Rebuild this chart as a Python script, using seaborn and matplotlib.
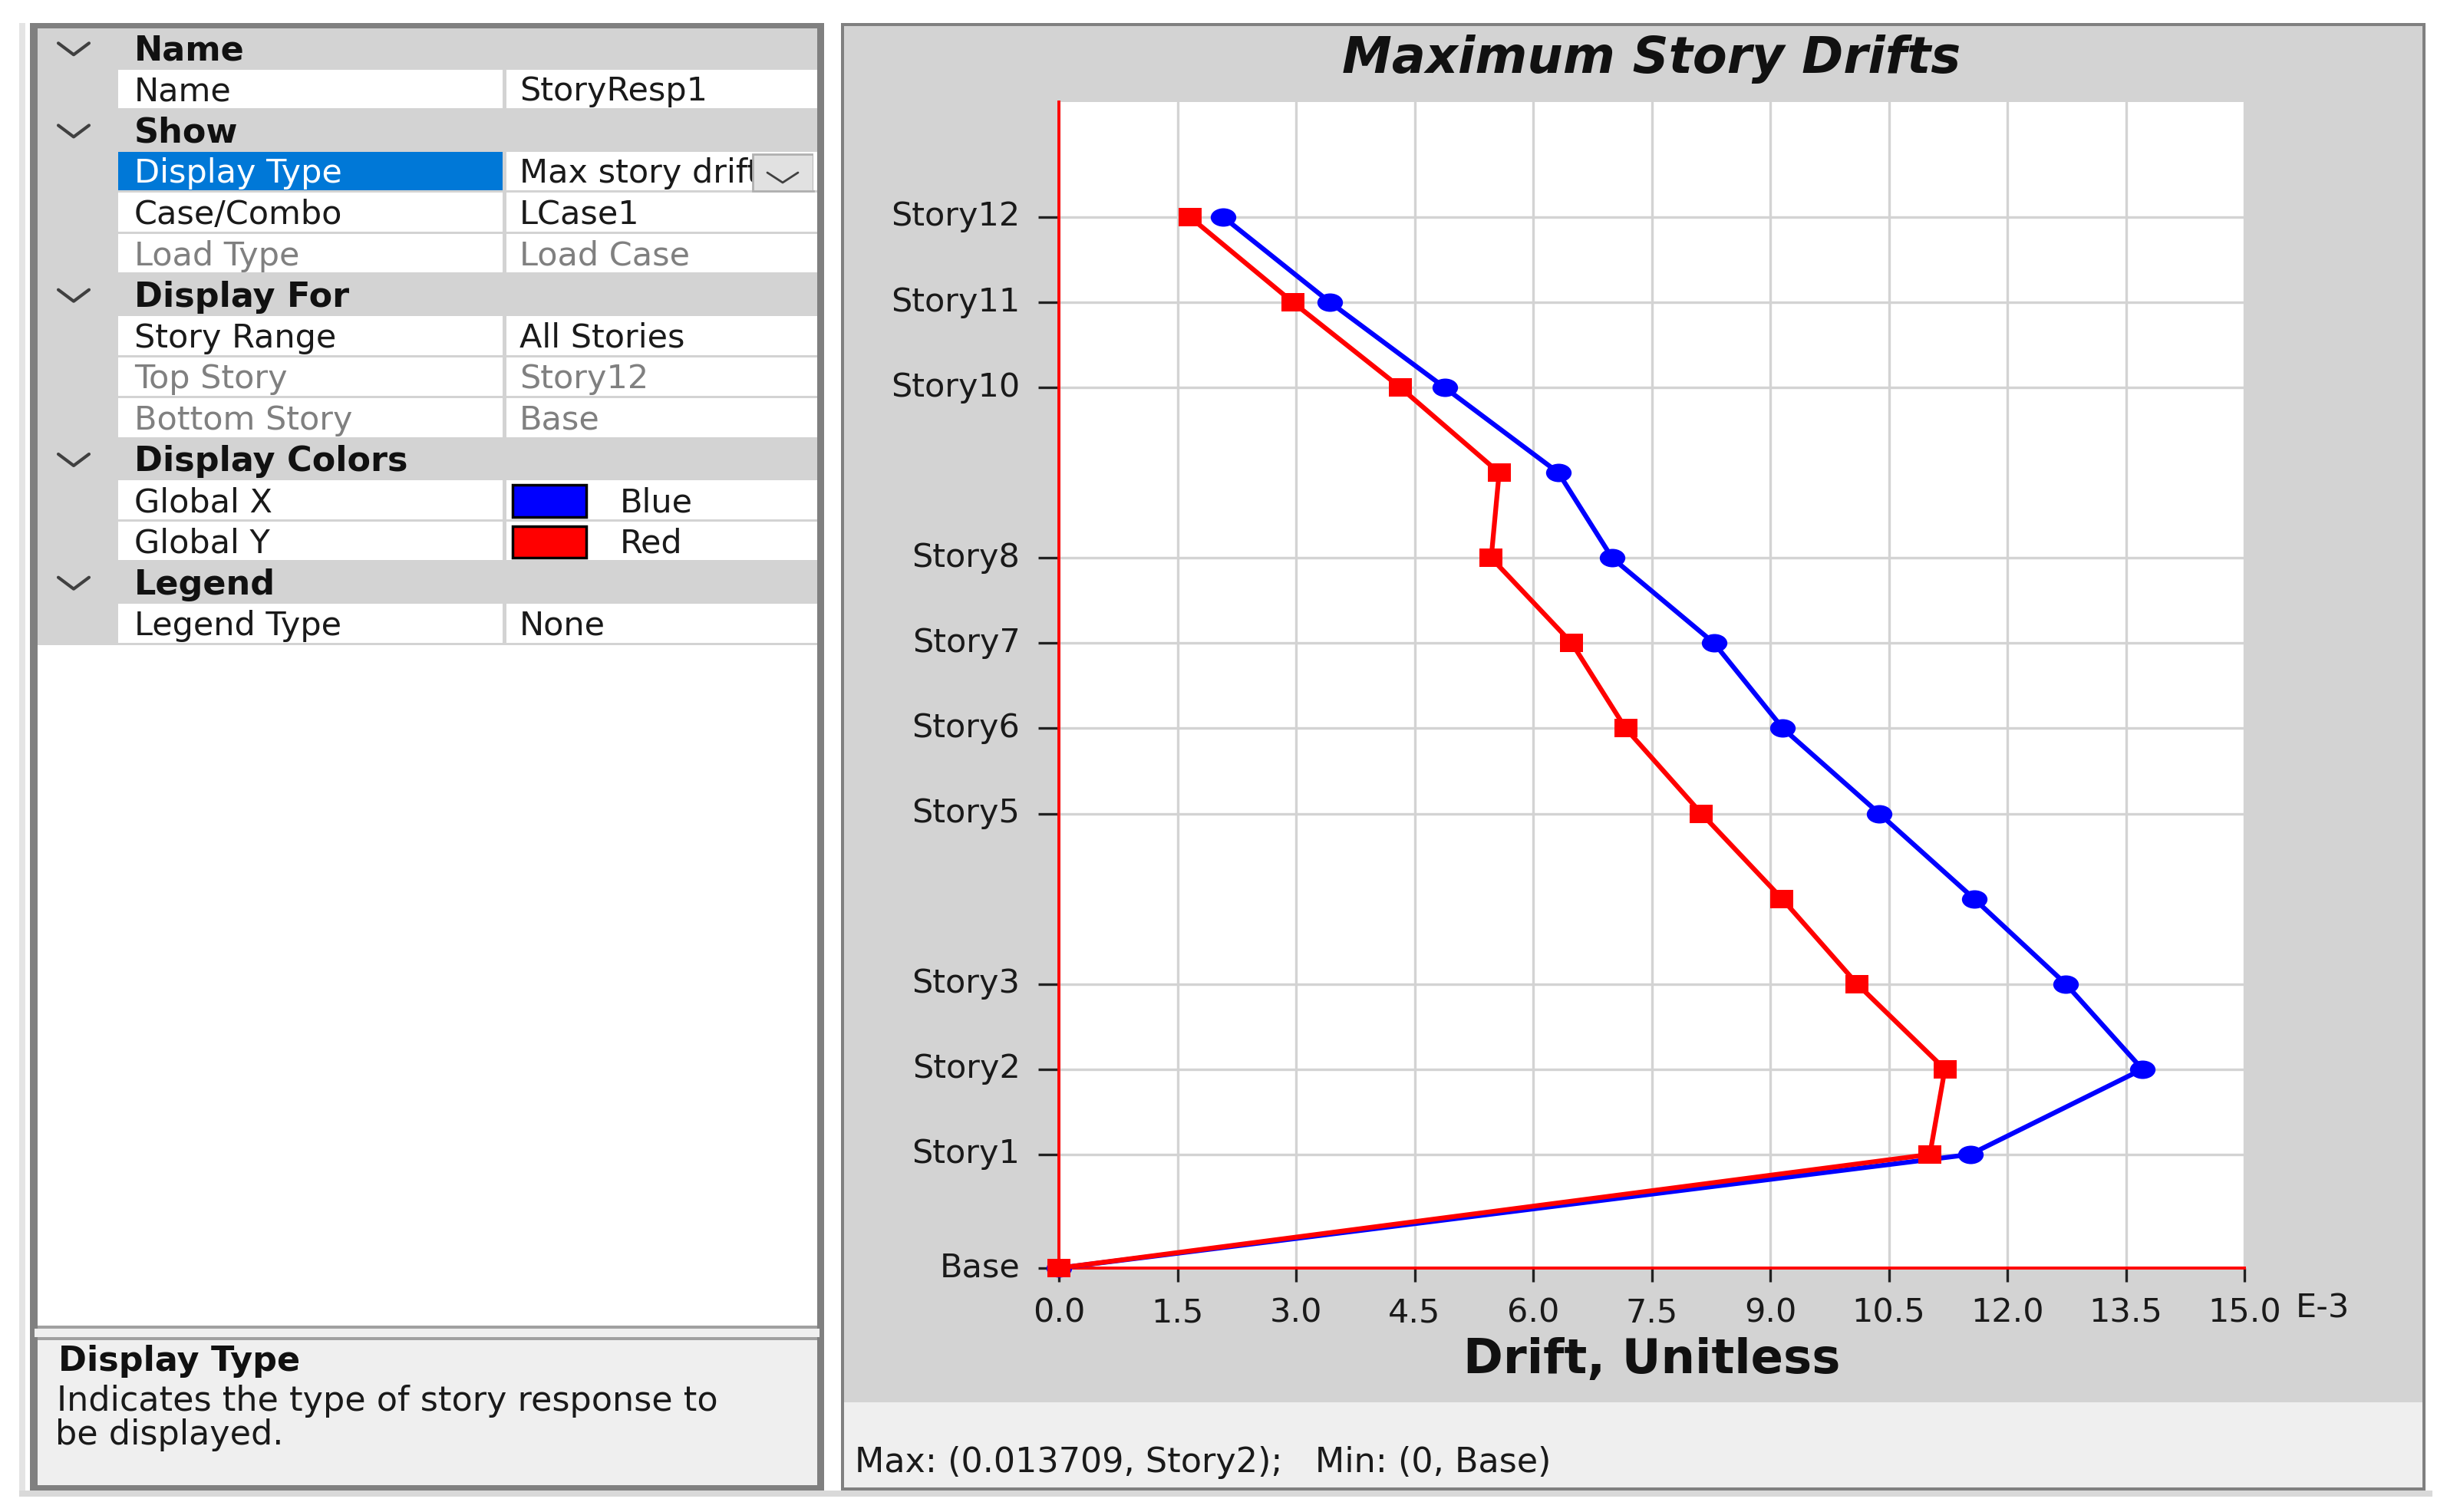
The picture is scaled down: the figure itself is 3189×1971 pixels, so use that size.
import matplotlib
matplotlib.use("Agg")
import matplotlib.pyplot as plt
import numpy as np
import pandas as pd
import seaborn as sns
from matplotlib.lines import Line2D
from matplotlib.patches import Rectangle
from matplotlib.path import Path
from matplotlib.transforms import Affine2D, ScaledTranslation

# ---------- data ----------
stories = ["Base", "Story1", "Story2", "Story3", "Story4", "Story5", "Story6",
           "Story7", "Story8", "Story9", "Story10", "Story11", "Story12"]
elevation_m = [0, 4, 7, 10, 13, 16, 19, 22, 25, 28, 31, 34, 37]
drift_x_e3 = [0.0, 11.53, 13.709, 12.74, 11.58, 10.38, 9.16, 8.29, 7.0, 6.32, 4.88, 3.43, 2.08]
drift_y_e3 = [0.0, 11.02, 11.21, 10.10, 9.15, 8.13, 7.17, 6.49, 5.47, 5.57, 4.32, 2.96, 1.66]
labelled_stories = ["Base", "Story1", "Story2", "Story3", "Story5", "Story6", "Story7",
                    "Story8", "Story10", "Story11", "Story12"]
x_ticks = [0.0, 1.5, 3.0, 4.5, 6.0, 7.5, 9.0, 10.5, 12.0, 13.5, 15.0]

header_rows = {0: "Name", 2: "Show", 6: "Display For", 10: "Display Colors", 13: "Legend"}
prop_rows = {
    1: ("Name", "StoryResp1", False),
    3: ("Display Type", "Max story drift", False),
    4: ("Case/Combo", "LCase1", False),
    5: ("Load Type", "Load Case", True),
    7: ("Story Range", "All Stories", False),
    8: ("Top Story", "Story12", True),
    9: ("Bottom Story", "Base", True),
    11: ("Global X", "Blue", False),
    12: ("Global Y", "Red", False),
    14: ("Legend Type", "None", False),
}

# ---------- figure ----------
W, H = 3189, 1971
sns.set_theme(style="white")
plt.rcParams["font.family"] = ["DejaVu Sans"]
fig = plt.figure(figsize=(W / 100, H / 100), dpi=100, facecolor="white")
GREY, PALE, BORDER, DARK = "#d3d3d3", "#efefef", "#808080", "#1a1a1a"
FS = 31


def box(x0, y0, x1, y1, color, edge=None, lw=0, z=1):
    fig.add_artist(Rectangle((x0 / W, 1 - y1 / H), (x1 - x0) / W, (y1 - y0) / H,
                             transform=fig.transFigure, facecolor=color,
                             edgecolor=edge or color, linewidth=lw, zorder=z))


def label(x, y, s, z=3, **kw):
    kw.setdefault("fontsize", FS)
    kw.setdefault("color", DARK)
    kw.setdefault("va", "center")
    fig.text(x / W, 1 - y / H, s, zorder=z, **kw)


def chevron(cx, cy, w, h, color="#404040", lw=3.0, z=4):
    fig.add_artist(Line2D([(cx - w / 2) / W, cx / W, (cx + w / 2) / W],
                          [1 - (cy - h / 2) / H, 1 - (cy + h / 2) / H, 1 - (cy - h / 2) / H],
                          transform=fig.transFigure, color=color, linewidth=lw, zorder=z))


# outer light strips
box(25, 30, 33, 1950, "#e4e4e4", z=0)
box(25, 1943, 3170, 1951, "#d9d9d9", z=0)

# left panel
box(39, 30, 1074, 1943, BORDER, z=1)
box(49, 37, 1065, 1728, "white", z=1)
box(49, 1728, 1065, 1732, "#a0a0a0", z=1)
box(45, 1732, 1068, 1743, PALE, z=1)
box(49, 1743, 1065, 1747, "#a0a0a0", z=1)
box(49, 1747, 1065, 1936, PALE, z=1)

ROW_TOP, ROW_H = 37.0, 53.57
COL_L, COL_M, COL_R = 154, 657, 1065
for r in range(15):
    y0 = ROW_TOP + r * ROW_H
    y1 = y0 + ROW_H
    yc = (y0 + y1) / 2
    if r in header_rows:
        box(49, y0, COL_R, y1, GREY, z=2)
        label(175, yc + 2, header_rows[r], fontweight="bold", color="#111111", fontsize=FS + 1)
        chevron(96, yc, 40, 15)
    else:
        box(49, y0, COL_L, y1, GREY, z=2)
        name, value, disabled = prop_rows[r]
        selected = name == "Display Type"
        if selected:
            box(COL_L, y0, COL_M - 2, y1, "#0078d7", z=2)
        box(COL_L, y1 - 3, COL_R, y1, GREY, z=2)
        box(COL_M - 2, y0, COL_M + 3, y1, GREY, z=2)
        col = "white" if selected else ("#808080" if disabled else DARK)
        label(175, yc + 2, name, color=col)
        if name.startswith("Global"):
            swatch = "#0000ff" if value == "Blue" else "#ff0000"
            box(668, y0 + 6, 764, y1 - 6, swatch, edge="black", lw=2.5, z=3)
            label(808, yc + 2, value)
        else:
            label(677, yc + 2, value, color="#808080" if disabled else DARK)
        if selected:
            box(981, y0 + 3, 1060, y1 - 2, "#e1e1e1", edge="#b0b0b0", lw=2, z=4)
            box(1060, y0, COL_R, y1 - 3, "white", z=4)
            chevron(1020, yc + 7, 40, 13, lw=2.0, z=5)

label(76, 1775, "Display Type", fontweight="bold", color="#111111", fontsize=FS + 1)
label(74, 1827, "Indicates the type of story response to", fontsize=FS + 1)
label(72, 1870, "be displayed.", fontsize=FS + 1)

# right panel
box(1096, 30, 3161, 1943, BORDER, z=1)
box(1100, 34, 3157, 1828, GREY, z=1)
box(1100, 1828, 3157, 1939, PALE, z=1)
label(1114, 1907, "Max: (0.013709, Story2);   Min: (0, Base)", fontsize=FS + 1)

# ---------- chart ----------
AX_L, AX_R, AX_T, AX_B = 1380, 2925, 133, 1653
ax = fig.add_axes([AX_L / W, 1 - AX_B / H, (AX_R - AX_L) / W, (AX_B - AX_T) / H],
                  facecolor="white", zorder=3)

circle = Path.unit_circle().transformed(Affine2D().scale(1.0, 0.72))
square = Path([(-1, -0.8), (1, -0.8), (1, 0.8), (-1, 0.8), (-1, -0.8)], closed=True)

df = pd.DataFrame({"story": stories, "elev": elevation_m,
                   "Global X": drift_x_e3, "Global Y": drift_y_e3})
sns.lineplot(data=df, x="Global X", y="elev", ax=ax, sort=False, estimator=None,
             color="#0000ff", linewidth=4.5, marker=circle, markersize=24,
             markeredgewidth=0, clip_on=False, zorder=5)
sns.lineplot(data=df, x="Global Y", y="elev", ax=ax, sort=False, estimator=None,
             color="#ff0000", linewidth=4.5, marker=square, markersize=21,
             markeredgewidth=0, clip_on=False, zorder=6)

ax.set_xlim(0, 15)
ax.set_ylim(0, 41.05)
ax.set_xticks(x_ticks)
ax.set_xticklabels([f"{t:.1f}" for t in x_ticks])
elev_of = dict(zip(stories, elevation_m))
ax.set_yticks([elev_of[s] for s in labelled_stories])
ax.set_yticklabels(labelled_stories)
ax.grid(True, color=GREY, linewidth=2.4)
ax.set_axisbelow(True)
for side in ("top", "right"):
    ax.spines[side].set_visible(False)
for side in ("left", "bottom"):
    ax.spines[side].set_color("#ff0000")
    ax.spines[side].set_linewidth(2.8)
    ax.spines[side].set_zorder(4)
ax.tick_params(axis="y", length=19.4, width=2.4, color="#222222", pad=17,
               labelsize=FS, labelcolor=DARK, left=True)
ax.tick_params(axis="x", length=13, width=2.4, color="#222222", pad=14,
               labelsize=FS, labelcolor=DARK, bottom=True)
shift = ScaledTranslation(0, 0.05, fig.dpi_scale_trans)
for tl in ax.get_yticklabels():
    tl.set_transform(tl.get_transform() + shift)
ax.set_xlabel("Drift, Unitless", fontsize=45, fontweight="bold", color="#111111", va="center")
ax.xaxis.set_label_coords(0.5, -(1773 - AX_B) / (AX_B - AX_T))
ax.set_ylabel("")
ax.set_title("Maximum Story Drifts", fontsize=47, fontweight="bold", fontstyle="italic",
             color="#111111", y=(AX_B - 77) / (AX_B - AX_T), va="center", x=0.5, pad=0)
ax.text((2992 - AX_L) / (AX_R - AX_L), -(1706 - AX_B) / (AX_B - AX_T), "E-3",
        transform=ax.transAxes, fontsize=FS, color=DARK, va="center", ha="left", clip_on=False)

fig.savefig("out.png", dpi=100, facecolor="white")
